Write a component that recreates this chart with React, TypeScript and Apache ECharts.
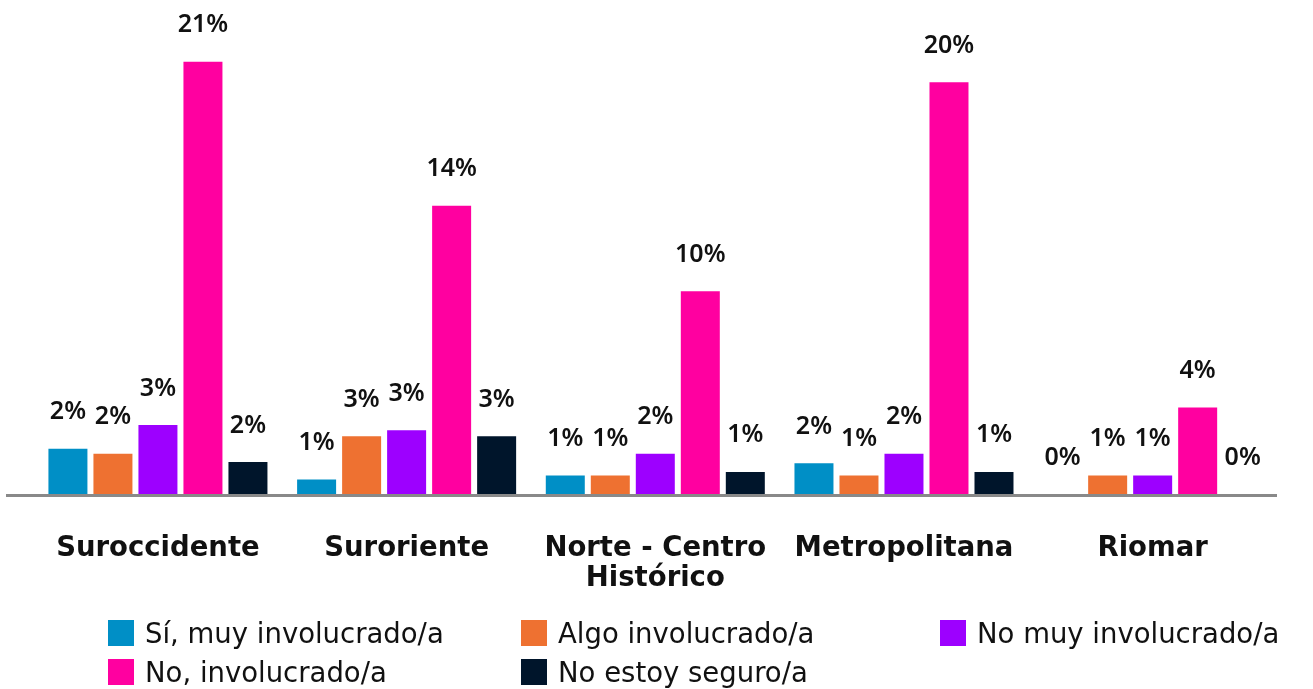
import React, { useEffect, useRef } from "react";
import * as echarts from "echarts";

const categories = ["Suroccidente", "Suroriente", "Norte - Centro\nHistórico", "Metropolitana", "Riomar"];
const seriesNames = ["Sí, muy involucrado/a", "Algo involucrado/a", "No muy involucrado/a", "No, involucrado/a", "No estoy seguro/a"];
const siMuy = [2.2, 0.7, 0.9, 1.5, 0];
const algo = [1.95, 2.8, 0.9, 0.9, 0.9];
const noMuy = [3.35, 3.1, 1.95, 1.95, 0.9];
const noInv = [21.0, 14.0, 9.85, 20.0, 4.2];
const noSeguro = [1.55, 2.8, 1.07, 1.07, 0];
const colors = ["#008FC6", "#EE7131", "#9D00FF", "#FF00A0", "#00152B"];

const FONT = "'Noto Sans', sans-serif";
const WIDE = "'DejaVu Sans', sans-serif";

export default function App() {
  const ref = useRef<HTMLDivElement>(null);
  useEffect(() => {
    if (!ref.current) return;
    const chart = echarts.init(ref.current, null, { renderer: "svg" });
    const values = [siMuy, algo, noMuy, noInv, noSeguro];
    const legendPos = [
      { left: 108, top: 619 },
      { left: 521, top: 619 },
      { left: 940, top: 619 },
      { left: 108, top: 658 },
      { left: 521, top: 658 },
    ];
    chart.setOption({
      animation: false,
      color: colors,
      textStyle: { fontFamily: FONT },
      grid: { left: 33.6, right: 36, top: 0, bottom: 195, containLabel: false },
      legend: seriesNames.map((n, i) => ({
        data: [n],
        left: legendPos[i].left,
        top: legendPos[i].top,
        icon: "rect",
        itemWidth: 26,
        itemHeight: 26,
        padding: 0,
        textStyle: { fontSize: 27.5, lineHeight: 26, color: "#111", fontFamily: WIDE, padding: [0, 0, 0, 6] },
        selectedMode: false,
      })),
      xAxis: {
        type: "category",
        data: categories,
        offset: 1.5,
        axisLine: { show: false },
        axisTick: { show: false },
        axisLabel: {
          color: "#111",
          fontSize: 27.5,
          fontWeight: "bold",
          fontFamily: WIDE,
          margin: 35,
          lineHeight: 30,
          interval: 0,
        },
      },
      yAxis: { type: "value", min: 0, max: 24, show: false, splitLine: { show: false } },
      graphic: [
        { type: "line", shape: { x1: 6, y1: 495.5, x2: 1277, y2: 495.5 }, style: { stroke: "#898989", lineWidth: 3 } },
      ],
      series: seriesNames.map((n, i) => ({
        name: n,
        type: "bar",
        data: values[i],
        barWidth: 39,
        barGap: "15.4%",
        itemStyle: { color: colors[i] },
        label: {
          show: true,
          position: "top",
          distance: 27,
          color: "#111",
          fontSize: 25,
          fontWeight: 600,
          fontFamily: FONT,
          formatter: (p: any) => Math.round(p.value) + "%",
        },
      })),
    });
    return () => chart.dispose();
  }, []);
  return <div ref={ref} style={{ position: "fixed", left: 0, top: 0, width: 1313, height: 689 }} />;
}
